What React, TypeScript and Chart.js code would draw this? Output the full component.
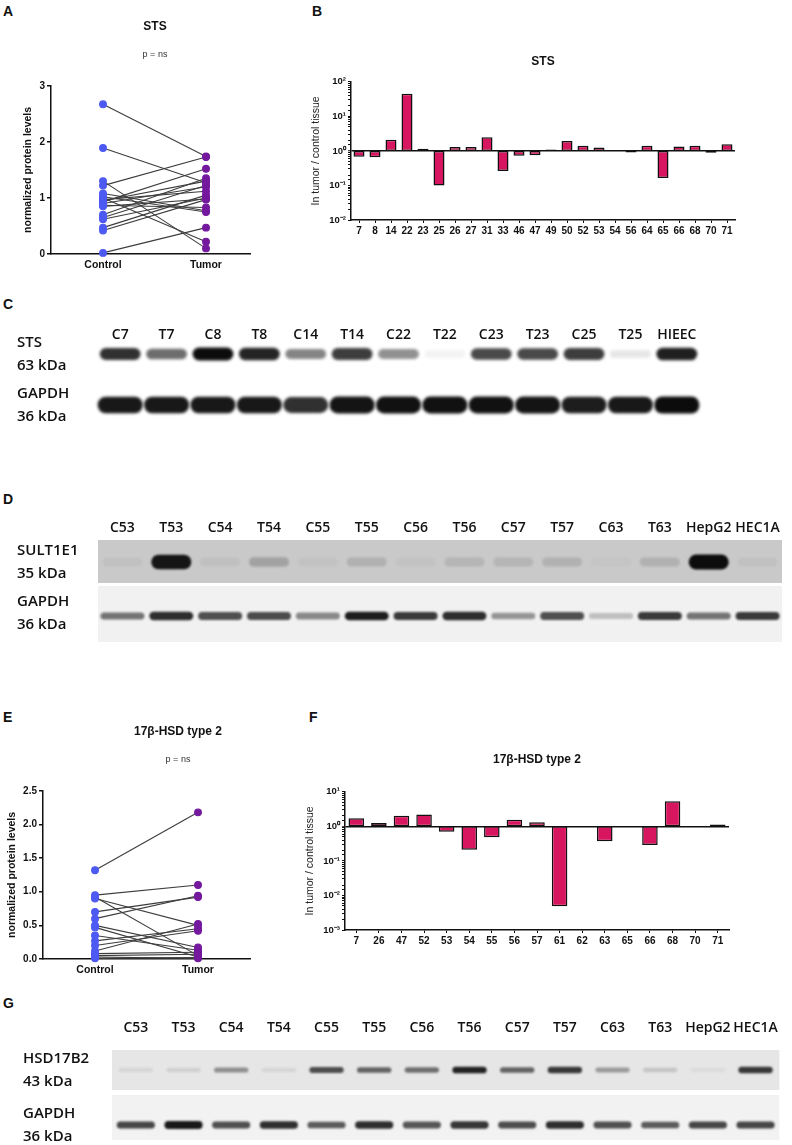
import { useEffect, useRef } from "react";
import { Chart, registerables } from "chart.js";

Chart.register(...registerables);

const ARIAL = "'Liberation Sans', Arial, sans-serif";
const BLOT_FONT = "'Open Sans', 'Liberation Sans', sans-serif";
const CONTROL_COLOR = "#4d5af2";
const TUMOR_COLOR = "#74199e";
const BAR_PINK = "#d8165f";

// A / E – paired protein levels
const GROUPS = ["Control", "Tumor"];
const STS_CONTROL = [2.67, 1.89, 1.30, 1.22, 1.08, 1.00, 0.97, 0.95, 0.93, 0.90, 0.87, 0.85, 0.70, 0.65, 0.62, 0.47, 0.42, 0.02, 1.02];
const STS_TUMOR = [1.74, 1.27, 0.10, 1.73, 0.77, 0.22, 1.12, 1.30, 1.52, 1.20, 0.83, 0.98, 1.35, 1.22, 1.00, 1.05, 0.97, 0.47, 0.75];
const HSD_CONTROL = [1.32, 0.95, 0.92, 0.90, 0.70, 0.60, 0.50, 0.47, 0.35, 0.27, 0.20, 0.12, 0.08, 0.05, 0.03, 0.01];
const HSD_TUMOR = [2.18, 1.10, 0.05, 0.50, 0.92, 0.94, 0.17, 0.03, 0.13, 0.45, 0.42, 0.52, 0.10, 0.07, 0.01, 0.02];

// B / F – tumor / control ratios
const STS_PATIENTS = ["7", "8", "14", "22", "23", "25", "26", "27", "31", "33", "46", "47", "49", "50", "52", "53", "54", "56", "64", "65", "66", "68", "70", "71"];
const STS_RATIO = [0.68, 0.65, 2.1, 45, 1.15, 0.1, 1.3, 1.3, 2.5, 0.26, 0.72, 0.75, 1.1, 1.95, 1.4, 1.25, null, 0.9, 1.4, 0.165, 1.35, 1.4, 0.88, 1.55];
const HSD_PATIENTS = ["7", "26", "47", "52", "53", "54", "55", "56", "57", "61", "62", "63", "65", "66", "68", "70", "71"];
const HSD_RATIO = [1.71, 1.25, 2.04, 2.19, 0.70, 0.21, 0.48, 1.56, 1.31, 0.0049, null, 0.37, null, 0.29, 5.35, null, 1.14];
const LOG_LABELS: Record<string, string> = { "-3": "10⁻³", "-2": "10⁻²", "-1": "10⁻¹", "0": "10⁰", "1": "10¹", "2": "10²" };

// C / D / G – western blots (relative band intensity 0..1)
const C_LANES = ["C7", "T7", "C8", "T8", "C14", "T14", "C22", "T22", "C23", "T23", "C25", "T25", "HIEEC"];
const C_STS = [0.85, 0.6, 1, 0.9, 0.5, 0.8, 0.45, 0.05, 0.75, 0.75, 0.8, 0.1, 0.92];
const C_GAPDH = [0.95, 0.95, 0.95, 0.95, 0.85, 0.97, 0.98, 0.98, 0.98, 0.97, 0.93, 0.95, 1];
const DG_LANES = ["C53", "T53", "C54", "T54", "C55", "T55", "C56", "T56", "C57", "T57", "C63", "T63", "HepG2", "HEC1A"];
const D_SULT1E1 = [0.04, 0.95, 0.05, 0.2, 0.03, 0.13, 0.03, 0.1, 0.1, 0.12, 0.02, 0.12, 1, 0.04];
const D_GAPDH = [0.55, 0.85, 0.7, 0.72, 0.45, 0.92, 0.8, 0.85, 0.4, 0.7, 0.22, 0.8, 0.55, 0.8];
const G_HSD17B2 = [0.08, 0.1, 0.4, 0.08, 0.7, 0.6, 0.55, 0.9, 0.6, 0.8, 0.35, 0.15, 0.05, 0.8];
const G_GAPDH = [0.75, 0.95, 0.7, 0.85, 0.65, 0.85, 0.68, 0.82, 0.72, 0.85, 0.7, 0.65, 0.75, 0.75];

// invisible right-hand axis that only reserves space, so the title can centre over the whole canvas
const spacer = (width: number) => ({
  type: "linear" as const,
  position: "right" as const,
  grid: { display: false, drawTicks: false },
  border: { display: false },
  ticks: { display: false },
  afterFit: (s: any) => { s.width = width; },
});

function PairedPlot({ top, title, control, tumor, yMax, yStep, decimals, axisLeft, width, yTitlePad }: {
  top: number; title: string; control: number[]; tumor: number[]; yMax: number; yStep: number; decimals: number;
  axisLeft: number; width: number; yTitlePad: number;
}) {
  const ref = useRef<HTMLCanvasElement>(null);
  useEffect(() => {
    if (!ref.current) return;
    const chart = new Chart(ref.current, {
      type: "scatter",
      data: {
        datasets: control.map((c, i) => ({
          data: [{ x: 0, y: c }, { x: 1, y: tumor[i] }],
          showLine: true,
          borderColor: "#3d3d3d",
          borderWidth: 1.1,
          pointRadius: 3.4,
          pointBackgroundColor: [CONTROL_COLOR, TUMOR_COLOR],
          pointBorderColor: [CONTROL_COLOR, TUMOR_COLOR],
          clip: false as any,
        })),
      },
      options: {
        animation: false,
        responsive: false,
        layout: { padding: 0 },
        plugins: {
          legend: { display: false },
          tooltip: { enabled: false },
          title: { display: true, text: title, color: "#111", font: { family: ARIAL, size: 12, weight: "bold" }, padding: { top: 19, bottom: 13 } },
          subtitle: { display: true, text: "p = ns", color: "#333", font: { family: ARIAL, size: 9 }, padding: { top: 3, bottom: 25.6 } },
        },
        scales: {
          x: {
            type: "linear",
            min: -0.505,
            max: (250 - axisLeft) / 103 - 0.505,
            afterBuildTicks: (s: any) => { s.ticks = [{ value: 0 }, { value: 1 }]; },
            ticks: { callback: (v: any) => GROUPS[v], color: "#111", font: { family: ARIAL, size: 10.5, weight: "bold" }, padding: 5 },
            grid: { display: false, drawTicks: false },
            border: { color: "#111", width: 1.5 },
            afterFit: (s: any) => { s.height = 20; },
          },
          y: {
            min: 0,
            max: yMax,
            ticks: { stepSize: yStep, callback: (v: any) => Number(v).toFixed(decimals), color: "#111", font: { family: ARIAL, size: 10, weight: "bold" }, padding: 2 },
            grid: { drawOnChartArea: false, tickLength: 4, color: "#111", lineWidth: 1.5 },
            border: { color: "#111", width: 1.5 },
            title: { display: true, text: "normalized protein levels", color: "#111", font: { family: ARIAL, size: 10.5, weight: "bold" }, padding: { top: yTitlePad, bottom: 0 } },
            afterFit: (s: any) => { s.width = axisLeft; },
          },
          yPad: spacer(width - 250),
        },
      },
    });
    return () => chart.destroy();
  }, []);
  return (
    <div style={{ position: "absolute", left: 0, top }}>
      <canvas ref={ref} width={width} height={274} />
    </div>
  );
}

function RatioBars({ left, top, height, title, labels, values, min, max }: {
  left: number; top: number; height: number; title: string; labels: string[]; values: (number | null)[]; min: number; max: number;
}) {
  const ref = useRef<HTMLCanvasElement>(null);
  useEffect(() => {
    if (!ref.current) return;
    const isOne = (ctx: any) => ctx.tick && Math.abs(ctx.tick.value - 1) < 1e-9;
    const chart = new Chart(ref.current, {
      type: "bar",
      data: {
        labels,
        datasets: [{
          data: values.map((v) => (v == null ? null : [1, v])) as any,
          backgroundColor: BAR_PINK,
          borderColor: "#111",
          borderWidth: 1.5,
          borderSkipped: false,
          categoryPercentage: 0.8,
          barPercentage: 0.86,
          yAxisID: "y",
        }],
      },
      options: {
        animation: false,
        responsive: false,
        layout: { padding: 0 },
        plugins: {
          legend: { display: false },
          tooltip: { enabled: false },
          title: { display: true, text: title, color: "#111", font: { family: ARIAL, size: 12, weight: "bold" }, padding: { top: 14, bottom: height > 205 ? 25.4 : 13.4 } },
        },
        scales: {
          x: {
            grid: { offset: false, drawOnChartArea: false, tickLength: 3, color: "#111" },
            ticks: { color: "#111", font: { family: ARIAL, size: 10, weight: "bold" }, padding: 2, autoSkip: false, maxRotation: 0 },
            border: { color: "#111", width: 1.5 },
            afterFit: (s: any) => { s.height = 20; },
          },
          y: {
            type: "logarithmic",
            min,
            max,
            ticks: {
              autoSkip: false,
              color: "#111",
              font: { family: ARIAL, size: 9.5, weight: "bold" },
              padding: 2,
              callback: (v: any) => {
                const e = Math.log10(Number(v));
                return Math.abs(e - Math.round(e)) < 1e-6 ? LOG_LABELS[String(Math.round(e))] ?? "" : "";
              },
            },
            grid: {
              color: (ctx: any) => (isOne(ctx) ? "#111" : "rgba(0,0,0,0)"),
              lineWidth: (ctx: any) => (isOne(ctx) ? 1.5 : 1),
              tickColor: "#111",
              tickWidth: 1,
              tickLength: 3,
            },
            border: { color: "#111", width: 1.5 },
            title: { display: true, text: "In tumor / control tissue", color: "#222", font: { family: ARIAL, size: 10.5 }, padding: { top: 0, bottom: 0 } },
            afterFit: (s: any) => { s.width = 41; },
          },
          yPad: spacer(41),
        },
      },
    });
    return () => chart.destroy();
  }, []);
  return (
    <div style={{ position: "absolute", left, top }}>
      <canvas ref={ref} width={466} height={height} />
    </div>
  );
}

type BlotRow = { label: string[]; intensity: number[]; band: number; width: number; shift?: number; bg?: string; box?: [number, number] };

const AXIS_H = 30;

function Blot({ lanes, rows, areaTop, areaBottom, firstRow, pitch, left, right, labelLeft, lanePad, blur }: {
  lanes: string[]; rows: BlotRow[]; areaTop: number; areaBottom: number; firstRow: number; pitch: number;
  left: number; right: number; labelLeft: number; lanePad: number; blur: number;
}) {
  const ref = useRef<HTMLCanvasElement>(null);
  const height = AXIS_H + areaBottom - areaTop;
  useEffect(() => {
    if (!ref.current) return;
    const unit = (px: number) => px / pitch;
    const paint = {
      id: "blotPaint",
      beforeDatasetsDraw(chart: Chart) {
        const { ctx, chartArea } = chart;
        const y = chart.scales.y;
        rows.forEach((row, i) => {
          if (!row.bg || !row.box) return;
          const y0 = y.getPixelForValue(i + unit(row.box[0]));
          const y1 = y.getPixelForValue(i + unit(row.box[1]));
          ctx.fillStyle = row.bg;
          ctx.fillRect(chartArea.left, y0, chartArea.right - chartArea.left, y1 - y0);
        });
        ctx.save();
        ctx.filter = `blur(${blur}px)`;
      },
      afterDatasetsDraw(chart: Chart) {
        chart.ctx.restore();
      },
    };
    const chart = new Chart(ref.current, {
      type: "bar",
      data: {
        labels: lanes,
        datasets: rows.map((row, i) => ({
          data: row.intensity.map((v) => {
            const h = unit(row.band * (0.55 + 0.45 * v)) / 2;
            const c = i + unit(row.shift ?? 0);
            return [c - h, c + h];
          }) as any,
          backgroundColor: row.intensity.map((v) => `rgba(12,12,12,${v})`),
          borderWidth: 0,
          borderRadius: 8,
          borderSkipped: false,
          grouped: false,
          categoryPercentage: 1,
          barPercentage: row.width,
          clip: false as any,
        })),
      },
      options: {
        animation: false,
        responsive: false,
        layout: { padding: { left: labelLeft, right: 792 - right, top: 0, bottom: 0 } },
        plugins: { legend: { display: false }, tooltip: { enabled: false } },
        scales: {
          x: {
            position: "top",
            offset: true,
            grid: { display: false, drawTicks: false },
            border: { display: false },
            ticks: { color: "#111", font: { family: BLOT_FONT, size: 14, weight: 600 }, padding: lanePad, autoSkip: false, maxRotation: 0 },
            afterFit: (s: any) => { s.height = AXIS_H; },
          },
          y: {
            type: "linear",
            reverse: true,
            min: (areaTop - firstRow) / pitch,
            max: (areaBottom - firstRow) / pitch,
            afterBuildTicks: (s: any) => { s.ticks = rows.map((_, i) => ({ value: i })); },
            ticks: {
              callback: (_v: any, i: number) => rows[i].label,
              crossAlign: "far",
              color: "#111",
              font: { family: BLOT_FONT, size: 15, weight: 600, lineHeight: 1.5 },
              padding: 0,
            },
            grid: { display: false, drawTicks: false },
            border: { display: false },
            afterFit: (s: any) => {
              s.width = left - labelLeft;
              s.paddingTop = 0;
              s.paddingBottom = 0;
            },
          },
        },
      },
      plugins: [paint],
    });
    return () => chart.destroy();
  }, []);
  return (
    <div style={{ position: "absolute", left: 0, top: areaTop - AXIS_H }}>
      <canvas ref={ref} width={792} height={height} />
    </div>
  );
}

function Letter({ x, y, children }: { x: number; y: number; children: string }) {
  return (
    <div style={{ position: "absolute", left: x, top: y, font: `bold 14px ${ARIAL}`, color: "#111", lineHeight: "16px" }}>
      {children}
    </div>
  );
}

export default function App() {
  return (
    <div style={{ position: "absolute", left: 0, top: 0, width: 792, height: 1145, background: "#fff", overflow: "hidden" }}>
      <Letter x={3} y={3}>A</Letter>
      <Letter x={312} y={3}>B</Letter>
      <Letter x={3} y={296}>C</Letter>
      <Letter x={3} y={491}>D</Letter>
      <Letter x={3} y={709}>E</Letter>
      <Letter x={309} y={709}>F</Letter>
      <Letter x={3} y={995}>G</Letter>

      <PairedPlot top={0} title="STS" control={STS_CONTROL} tumor={STS_TUMOR} yMax={3} yStep={1} decimals={0} axisLeft={51} width={310} yTitlePad={22} />
      <RatioBars left={310} top={40} height={200} title="STS" labels={STS_PATIENTS} values={STS_RATIO} min={0.01} max={100} />

      <Blot
        lanes={C_LANES}
        rows={[
          { label: ["STS", "63 kDa"], intensity: C_STS, band: 13, width: 0.88 },
          { label: ["GAPDH", "36 kDa"], intensity: C_GAPDH, band: 17, width: 0.97 },
        ]}
        areaTop={343} areaBottom={432} firstRow={354} pitch={51}
        left={97} right={700} labelLeft={17} lanePad={0} blur={1.5}
      />

      <Blot
        lanes={DG_LANES}
        rows={[
          { label: ["SULT1E1", "35 kDa"], intensity: D_SULT1E1, band: 15, width: 0.82, bg: "#c9c9c9", box: [-22, 21] },
          { label: ["GAPDH", "36 kDa"], intensity: D_GAPDH, band: 9, width: 0.9, shift: 3, bg: "#f1f1f1", box: [-27, 29] },
        ]}
        areaTop={540} areaBottom={643} firstRow={562} pitch={51}
        left={98} right={782} labelLeft={17} lanePad={4} blur={1.2}
      />

      <PairedPlot top={705} title="17β-HSD type 2" control={HSD_CONTROL} tumor={HSD_TUMOR} yMax={2.5} yStep={0.5} decimals={1} axisLeft={43} width={356} yTitlePad={6} />
      <RatioBars left={304} top={738} height={212} title="17β-HSD type 2" labels={HSD_PATIENTS} values={HSD_RATIO} min={0.001} max={10} />

      <Blot
        lanes={DG_LANES}
        rows={[
          { label: ["HSD17B2", "43 kDa"], intensity: G_HSD17B2, band: 7, width: 0.72, bg: "#e6e6e6", box: [-20, 20] },
          { label: ["GAPDH", "36 kDa"], intensity: G_GAPDH, band: 8, width: 0.8, bg: "#f2f2f2", box: [-30, 15] },
        ]}
        areaTop={1050} areaBottom={1142} firstRow={1070} pitch={55}
        left={112} right={786} labelLeft={23} lanePad={14} blur={1.2}
      />
    </div>
  );
}
